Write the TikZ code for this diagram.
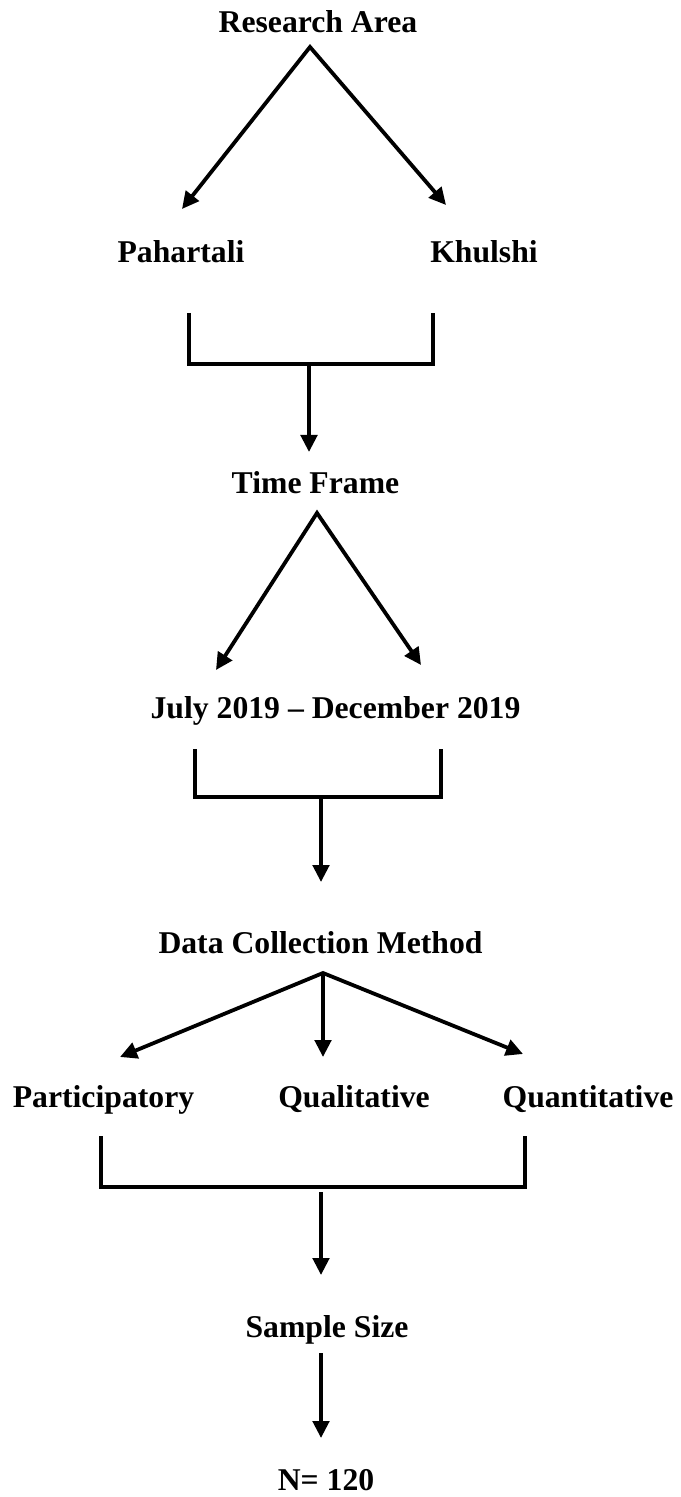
\documentclass[tikz,border=0pt]{standalone}
\usepackage{fontspec}
\setmainfont{Liberation Serif}
\usetikzlibrary{arrows.meta}
\begin{document}
\begin{tikzpicture}[x=0.5pt,y=-0.5pt,
  lbl/.style={anchor=base,inner sep=0pt,font=\fontsize{15.85}{19}\selectfont\bfseries},
  conn/.style={line width=1.9pt},
  arr/.style={conn,-{Triangle[length=8.5pt,width=8.2pt]}},
  darr/.style={conn,{Triangle[length=8.5pt,width=8.2pt]}-{Triangle[length=8.5pt,width=8.2pt]}}]
\useasboundingbox (0,0) rectangle (680,1497);

% labels
\node[lbl] (ra)   at (318,33)    {Research Area};
\node[lbl] (pah)  at (181,263)   {Pahartali};
\node[lbl] (khu)  at (484,263)   {Khulshi};
\node[lbl] (tf)   at (315.5,493) {Time Frame};
\node[lbl] (jul)  at (335.5,718) {July 2019 – December 2019};
\node[lbl] (dcm)  at (320.5,953) {Data Collection Method};
\node[lbl] (par)  at (103.5,1107) {Participatory};
\node[lbl] (qual) at (354,1107)  {Qualitative};
\node[lbl] (quan) at (588,1107)  {Quantitative};
\node[lbl] (ss)   at (327,1337)  {Sample Size};
\node[lbl] (n)    at (326,1490)  {N= 120};

% anchor points
\coordinate (raA)  at (310,47);
\coordinate (pahT) at (182,209);
\coordinate (khuT) at (446,205);
\coordinate (b1l)  at (189,313);
\coordinate (b1r)  at (433,313);
\coordinate (b1m)  at (309,364);
\coordinate (tfT)  at (309,452);
\coordinate (tfA)  at (317,513);
\coordinate (julL) at (216,670);
\coordinate (julR) at (421,665);
\coordinate (b2l)  at (195,749);
\coordinate (b2r)  at (441,749);
\coordinate (b2m)  at (321,797);
\coordinate (dcmT) at (321,882);
\coordinate (dcmA) at (323,973);
\coordinate (parT) at (120,1057);
\coordinate (qualT) at (323,1057);
\coordinate (quanT) at (523,1054);
\coordinate (b3l)  at (101,1136);
\coordinate (b3r)  at (525,1136);
\coordinate (b3m)  at (321,1192);
\coordinate (ssT)  at (321,1275);
\coordinate (ssB)  at (321,1353);
\coordinate (nT)   at (321,1438);

% Research Area split
\draw[darr] (pahT) -- (raA) -- (khuT);
% bracket 1
\draw[conn] (b1l) -- (b1l |- b1m) -- (b1r |- b1m) -- (b1r);
\draw[arr] (b1m) -- (tfT);
% Time Frame split
\draw[darr] (julL) -- (tfA) -- (julR);
% bracket 2
\draw[conn] (b2l) -- (b2l |- b2m) -- (b2r |- b2m) -- (b2r);
\draw[arr] (b2m) -- (dcmT);
% Data Collection split
\draw[darr] (parT) -- (dcmA) -- (quanT);
\draw[arr] (dcmA) -- (qualT);
% bracket 3
\draw[conn] (b3l) -- (101,1187) -- (525,1187) -- (b3r);
\draw[arr] (b3m) -- (ssT);
% Sample size
\draw[arr] (ssB) -- (nT);
\end{tikzpicture}
\end{document}
